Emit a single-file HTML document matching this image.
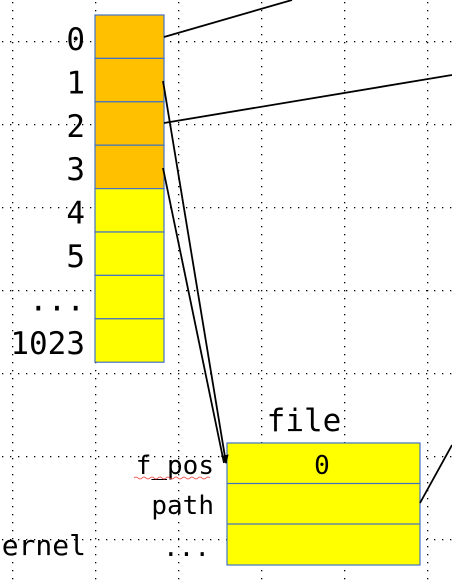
<!DOCTYPE html>
<html><head><meta charset="utf-8"><style>
html,body{margin:0;padding:0;background:#fff;width:452px;height:580px;overflow:hidden}
svg{display:block}
text{font-family:"DejaVu Sans Mono","Liberation Mono",monospace;fill:#000}
</style></head><body>
<svg width="452" height="580" viewBox="0 0 452 580">
<defs>
<marker id="ah" markerWidth="10" markerHeight="10" refX="8" refY="4" orient="auto" markerUnits="userSpaceOnUse"><path d="M0,0 L9,4 L0,8 z" fill="#000"/></marker>
</defs>
<g id="grid"></g>
<g id="arr"></g>
<g id="labels" font-size="31" text-anchor="end"></g>
<g>
<text x="304" y="431" font-size="31" text-anchor="middle">file</text>
<rect x="227" y="443" width="193" height="122" fill="#ffff00" stroke="#4472c4" stroke-width="1.2"/>
<line x1="227" y1="483.5" x2="420" y2="483.5" stroke="#4472c4" stroke-width="1.2"/>
<line x1="227" y1="524" x2="420" y2="524" stroke="#4472c4" stroke-width="1.2"/>
<text x="322" y="474" font-size="26" text-anchor="middle">0</text>
<text x="214" y="474" font-size="26" text-anchor="end">f_pos</text>
<path d="M134,478 q2,-2 4,0 t4,0 t4,0 t4,0 t4,0 t4,0 t4,0 t4,0 t4,0 t4,0 t4,0 t4,0 t4,0 t4,0 t4,0 t4,0 t4,0 t4,0 t4,0" fill="none" stroke="#e33" stroke-width="0.8"/>
<text x="214" y="514" font-size="26" text-anchor="end">path</text>
<text x="210" y="556" font-size="26" text-anchor="end">...</text>
</g>
<text x="86" y="555" font-size="28" text-anchor="end">ernel</text>
<g stroke="#000" stroke-width="1.8" fill="none">
<line x1="164" y1="37" x2="292" y2="0"/>
<line x1="164" y1="123" x2="452" y2="75"/>
<line x1="163" y1="81" x2="226" y2="463" marker-end="url(#ah)"/>
<line x1="163" y1="168" x2="224" y2="463"/>
<line x1="420" y1="503" x2="452" y2="445"/>
</g>
</svg>
<script>
const ns="http://www.w3.org/2000/svg";
const idx=["0","1","2","3","4","5","...","1023"];
const grid=document.getElementById('grid');
for(let gx=12;gx<452;gx+=83){for(let y=2;y<580;y+=8){const r=document.createElementNS(ns,'rect');r.setAttribute('x',gx);r.setAttribute('y',y);r.setAttribute('width',1.3);r.setAttribute('height',1.3);r.setAttribute('fill','#000');grid.appendChild(r);}}
for(let gy=41;gy<580;gy+=83){for(let x=2;x<452;x+=8){const r=document.createElementNS(ns,'rect');r.setAttribute('x',x);r.setAttribute('y',gy);r.setAttribute('width',1.3);r.setAttribute('height',1.3);r.setAttribute('fill','#000');grid.appendChild(r);}}
const arr=document.getElementById('arr'),lab=document.getElementById('labels');
const h=43.4;
idx.forEach((s,i)=>{
 const r=document.createElementNS(ns,'rect');
 
 
 r.setAttribute('x',95);r.setAttribute('y',15+i*h);r.setAttribute('width',69);r.setAttribute('height',h);
 r.setAttribute('fill',i<4?'#ffc000':'#ffff00');r.setAttribute('stroke','#4472c4');r.setAttribute('stroke-width',1.2);
 arr.appendChild(r);
 const t=document.createElementNS(ns,'text');
 
 
 t.setAttribute('x',85);t.setAttribute('y',15+i*h+35);t.textContent=s;
 lab.appendChild(t);
});
</script>
</body></html>
